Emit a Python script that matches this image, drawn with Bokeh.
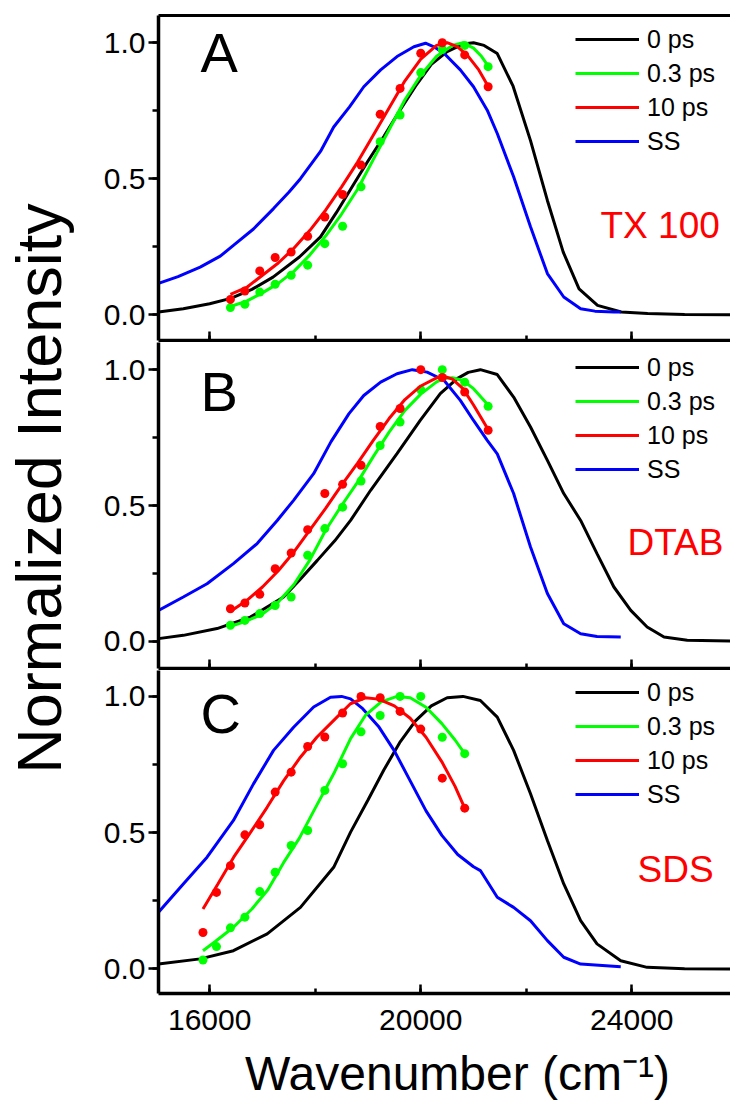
import math
from bokeh.plotting import figure
from bokeh.models import (Range1d, LinearAxis, SingleIntervalTicker, FixedTicker,
                          NumeralTickFormatter, CustomJSTickFormatter, Legend, LegendItem, Label)
from bokeh.layouts import row, column
from bokeh.embed import file_html
from bokeh.resources import INLINE

FONT = "Liberation Sans"
BLACK, GREEN, RED, BLUE = "#000000", "#00ff00", "#ff0000", "#0000ff"

# ---------------- Panel A (TX 100) ----------------
xa_black = [15030, 15500, 16000, 16400, 16800, 17200, 17700, 18100, 18400, 18700, 19000, 19300,
            19600, 19900, 20200, 20500, 20800, 21000, 21200, 21450, 21750, 22080, 22400, 22700,
            23000, 23350, 23800, 24300, 25000, 25870]
ya_black = [0.010, 0.022, 0.040, 0.060, 0.093, 0.138, 0.212, 0.286, 0.375, 0.47, 0.565, 0.655,
            0.75, 0.84, 0.92, 0.967, 0.995, 1.0, 0.99, 0.96, 0.84, 0.64, 0.42, 0.23,
            0.095, 0.034, 0.010, 0.004, 0.001, 0.0]
xa_blue = [15030, 15400, 15820, 16200, 16450, 16830, 17210, 17500, 17720, 18100, 18350, 18650,
           18920, 19240, 19550, 19870, 20090, 20250, 20440, 20750, 21000, 21260, 21450, 21760,
           22080, 22400, 22710, 23030, 23300, 23660, 23790]
ya_blue = [0.115, 0.14, 0.175, 0.215, 0.255, 0.315, 0.39, 0.45, 0.50, 0.60, 0.69, 0.764,
           0.838, 0.90, 0.949, 0.985, 0.998, 0.985, 0.961, 0.90, 0.838, 0.752, 0.666, 0.507,
           0.323, 0.151, 0.065, 0.022, 0.013, 0.010, 0.010]
x_dots = [16393, 16667, 16949, 17241, 17544, 17857, 18182, 18519, 18868, 19231, 19608, 20000,
          20408, 20833, 21277]
ya_red_pts = [0.056, 0.087, 0.161, 0.21, 0.23, 0.288, 0.359, 0.442, 0.55, 0.737, 0.832, 0.961,
              1.0, 0.955, 0.838]
ya_green_pts = [0.026, 0.038, 0.083, 0.112, 0.145, 0.182, 0.261, 0.325, 0.47, 0.636, 0.734, 0.89,
                0.975, 0.99, 0.912]
xa_red_fit = [16393, 16700, 17000, 17300, 17600, 17900, 18200, 18500, 18800, 19100, 19400, 19700,
              20000, 20300, 20500, 20700, 20900, 21100, 21277]
ya_red_fit = [0.075, 0.10, 0.145, 0.19, 0.245, 0.31, 0.385, 0.47, 0.56, 0.66, 0.76, 0.86,
              0.94, 0.99, 1.0, 0.985, 0.95, 0.90, 0.84]
xa_green_fit = [16393, 16700, 17000, 17300, 17600, 17900, 18200, 18500, 18800, 19100, 19400, 19700,
                20000, 20300, 20600, 20800, 21000, 21150, 21277]
ya_green_fit = [0.03, 0.05, 0.08, 0.115, 0.16, 0.22, 0.29, 0.37, 0.46, 0.57, 0.68, 0.79,
                0.88, 0.95, 0.99, 1.0, 0.98, 0.95, 0.915]

# ---------------- Panel B (DTAB) ----------------
xb_black = [15030, 15500, 16140, 16770, 17400, 17700, 18040, 18370, 18670, 19050, 19550, 19990,
            20370, 20690, 20900, 21130, 21450, 21760, 22080, 22400, 22710, 23030, 23340, 23660,
            23980, 24290, 24610, 25050, 25870]
yb_black = [0.010, 0.022, 0.047, 0.089, 0.163, 0.225, 0.298, 0.37, 0.445, 0.556, 0.691, 0.813,
            0.912, 0.967, 0.99, 1.0, 0.982, 0.899, 0.789, 0.666, 0.544, 0.445, 0.323, 0.20,
            0.114, 0.053, 0.016, 0.004, 0.001]
xb_blue = [15030, 15500, 15950, 16450, 16900, 17280, 17590, 17970, 18300, 18640, 18920, 19240,
           19550, 19840, 20120, 20440, 20750, 21000, 21260, 21450, 21760, 22080, 22400, 22710,
           23030, 23340, 23790]
yb_blue = [0.114, 0.163, 0.212, 0.286, 0.36, 0.445, 0.519, 0.617, 0.735, 0.838, 0.905, 0.954,
           0.985, 1.0, 0.991, 0.961, 0.887, 0.813, 0.74, 0.69, 0.544, 0.347, 0.176, 0.065,
           0.028, 0.018, 0.016]
yb_red_pts = [0.12, 0.141, 0.173, 0.267, 0.325, 0.411, 0.544, 0.578, 0.648, 0.791, 0.857, 1.0,
              0.971, 0.918, 0.777]
yb_green_pts = [0.059, 0.077, 0.102, 0.132, 0.163, 0.317, 0.415, 0.494, 0.59, 0.721, 0.807, 0.926,
                1.0, 0.954, 0.865]
xb_fit = [16393, 16700, 17000, 17300, 17600, 17900, 18200, 18500, 18800, 19100, 19400, 19700,
          20000, 20300, 20450, 20600, 20800, 21000, 21277]
yb_red_fit = [0.11, 0.15, 0.20, 0.26, 0.33, 0.41, 0.49, 0.575, 0.655, 0.74, 0.82, 0.89,
              0.94, 0.97, 0.975, 0.965, 0.93, 0.87, 0.78]
yb_green_fit = [0.055, 0.075, 0.10, 0.145, 0.21, 0.30, 0.41, 0.50, 0.585, 0.68, 0.77, 0.85,
                0.91, 0.955, 0.968, 0.97, 0.96, 0.93, 0.87]

# ---------------- Panel C (SDS) ----------------
xc_black = [15030, 15820, 16450, 17090, 17720, 18350, 18670, 19000, 19300, 19600, 19900, 20200,
            20500, 20800, 21130, 21450, 21760, 22080, 22400, 22710, 23030, 23340, 23790, 24290,
            25000, 25870]
yc_black = [0.018, 0.037, 0.067, 0.129, 0.226, 0.373, 0.502, 0.62, 0.73, 0.83, 0.91, 0.965,
            0.995, 1.0, 0.985, 0.924, 0.802, 0.643, 0.471, 0.312, 0.177, 0.092, 0.03, 0.006,
            0.001, 0.0]
xc_blue = [15030, 15500, 15950, 16450, 16830, 17210, 17590, 17970, 18290, 18500, 18670, 18900,
           19200, 19500, 19800, 20100, 20400, 20700, 21000, 21130, 21450, 21760, 22080, 22400,
           22710, 23030, 23790]
yc_blue = [0.208, 0.312, 0.41, 0.545, 0.679, 0.802, 0.887, 0.961, 0.997, 1.0, 0.991, 0.955,
           0.89, 0.80, 0.69, 0.58, 0.49, 0.42, 0.375, 0.361, 0.263, 0.226, 0.177, 0.104,
           0.043, 0.018, 0.008]
x_dots_c = [15873, 16129, 16393, 16667, 16949, 17241, 17544, 17857, 18182, 18519, 18868, 19231,
            19608, 20000, 20408, 20833]
yc_red_pts = [0.134, 0.281, 0.379, 0.492, 0.529, 0.649, 0.722, 0.816, 0.851, 0.939, 1.0, 0.995,
              0.945, 0.88, 0.70, 0.59]
yc_green_pts = [0.033, 0.082, 0.151, 0.19, 0.284, 0.355, 0.453, 0.508, 0.655, 0.753, 0.87, 0.93,
                1.0, 1.0, 0.85, 0.79]
xc_red_fit = [15873, 16150, 16455, 16770, 17088, 17400, 17719, 18030, 18351, 18667, 18950, 19200,
              19500, 19800, 20100, 20400, 20650, 20833]
yc_red_fit = [0.22, 0.31, 0.41, 0.50, 0.593, 0.69, 0.777, 0.85, 0.912, 0.973, 0.995, 0.99,
              0.965, 0.92, 0.85, 0.76, 0.67, 0.59]
xc_green_fit = [15873, 16100, 16450, 16800, 17100, 17400, 17700, 18000, 18350, 18670, 18950, 19250,
                19550, 19800, 20100, 20400, 20650, 20833]
yc_green_fit = [0.067, 0.10, 0.153, 0.22, 0.29, 0.39, 0.48, 0.59, 0.716, 0.845, 0.93, 0.98,
                1.0, 0.995, 0.96, 0.90, 0.84, 0.79]

legend_labels = ["0 ps", "0.3 ps", "10 ps", "SS"]
x_tick_interval = 4000
y_tick_interval = 0.5
x_label = "Wavenumber (cm\u207b\u00b9)"
y_label = "Normalized Intensity"

X_START, X_END = 15030, 25870
LEFT_W = 80
FIG_W = 730 - LEFT_W
FRAME_LEFT = 158
H_A, H_B, H_C, H_X = 342, 328, 375, 56
TOTAL_H = H_A + H_B + H_C + H_X


def style_axis(ax, width=3.5):
    ax.axis_line_width = width
    ax.axis_line_color = "black"
    ax.major_tick_line_width = 2.5
    ax.minor_tick_line_width = 2.5
    ax.major_tick_line_color = "black"
    ax.minor_tick_line_color = "black"


def make_panel(height, ybounds, border_top, border_bottom, letter, letter_y, surf, surf_x, surf_y,
               black, blue, dots_x, red_pts, green_pts, red_fit, green_fit, top_line=False,
               bottom_labels=False):
    p = figure(width=FIG_W, height=height, x_range=Range1d(X_START, X_END),
               y_range=Range1d(*ybounds), output_backend="svg", toolbar_location=None,
               x_axis_location=None, y_axis_location=None,
               min_border_left=FRAME_LEFT - LEFT_W, min_border_right=0,
               min_border_top=border_top, min_border_bottom=border_bottom)
    p.outline_line_color = None
    p.grid.visible = False
    p.background_fill_color = "white"
    p.border_fill_color = "white"

    left = LinearAxis(ticker=SingleIntervalTicker(interval=y_tick_interval, num_minor_ticks=2),
                      formatter=NumeralTickFormatter(format="0.0"))
    style_axis(left)
    left.major_tick_out = 10
    left.major_tick_in = 0
    left.minor_tick_out = 6
    left.minor_tick_in = 0
    left.major_label_standoff = 3
    left.major_label_text_font = FONT
    left.major_label_text_font_size = "30px"
    left.major_label_text_color = "black"
    p.add_layout(left, "left")

    bottom = LinearAxis(ticker=SingleIntervalTicker(interval=x_tick_interval, num_minor_ticks=2))
    style_axis(bottom)
    bottom.major_tick_in = 9
    bottom.major_tick_out = 0
    bottom.minor_tick_in = 5
    bottom.minor_tick_out = 0
    if bottom_labels:
        bottom.major_label_standoff = 16
        bottom.major_label_text_font = FONT
        bottom.major_label_text_font_size = "30px"
        bottom.major_label_text_color = "black"
    else:
        bottom.formatter = CustomJSTickFormatter(code="return ''")
        bottom.major_label_text_font_size = "0px"
        bottom.major_label_standoff = 0
    p.add_layout(bottom, "below")

    if top_line:
        top = LinearAxis(ticker=FixedTicker(ticks=[]))
        style_axis(top, 3)
        top.major_tick_in = 0
        top.major_tick_out = 0
        top.minor_tick_in = 0
        top.minor_tick_out = 0
        top.major_label_standoff = 0
        top.major_label_text_font_size = "0px"
        p.add_layout(top, "above")

    r_black = p.line(black[0], black[1], line_color=BLACK, line_width=3)
    r_blue = p.line(blue[0], blue[1], line_color=BLUE, line_width=3)
    r_green = p.line(green_fit[0], green_fit[1], line_color=GREEN, line_width=3)
    p.scatter(dots_x, green_pts, size=9, fill_color=GREEN, line_color=None)
    r_red = p.line(red_fit[0], red_fit[1], line_color=RED, line_width=3)
    p.scatter(dots_x, red_pts, size=9, fill_color=RED, line_color=None)

    legend = Legend(items=[LegendItem(label=legend_labels[0], renderers=[r_black]),
                           LegendItem(label=legend_labels[1], renderers=[r_green]),
                           LegendItem(label=legend_labels[2], renderers=[r_red]),
                           LegendItem(label=legend_labels[3], renderers=[r_blue])],
                    location=(417, 182), padding=0, margin=0, spacing=0,
                    glyph_width=64, glyph_height=34, label_height=34, label_standoff=8,
                    label_text_font=FONT, label_text_font_size="25px",
                    label_text_color="black",
                    border_line_color=None, background_fill_alpha=0)
    p.add_layout(legend)

    p.add_layout(Label(x=42, y=letter_y, x_units="screen", y_units="screen", text=letter,
                       text_font=FONT, text_font_size="56px", text_color="black",
                       text_align="left", text_baseline="middle"))
    p.add_layout(Label(x=surf_x, y=surf_y, x_units="screen", y_units="screen", text=surf,
                       text_font=FONT, text_font_size="37px", text_color=RED,
                       text_align="left", text_baseline="middle"))
    return p


pA = make_panel(H_A, (-0.095, 1.10), 15, 2, "A", 288, "TX 100", 442, 115,
                (xa_black, ya_black), (xa_blue, ya_blue), x_dots, ya_red_pts, ya_green_pts,
                (xa_red_fit, ya_red_fit), (xa_green_fit, ya_green_fit), top_line=True)
pB = make_panel(H_B, (-0.10, 1.10), 0, 2, "B", 277, "DTAB", 469, 126,
                (xb_black, yb_black), (xb_blue, yb_blue), x_dots, yb_red_pts, yb_green_pts,
                (xb_fit, yb_red_fit), (xb_fit, yb_green_fit))
pC = make_panel(H_C, (-0.09, 1.095), 0, H_C - 323, "C", 280, "SDS", 479, 124,
                (xc_black, yc_black), (xc_blue, yc_blue), x_dots_c, yc_red_pts, yc_green_pts,
                (xc_red_fit, yc_red_fit), (xc_green_fit, yc_green_fit), bottom_labels=True)


def blank(width, height):
    f = figure(width=width, height=height, x_range=Range1d(0, 1), y_range=Range1d(0, 1),
               output_backend="svg", toolbar_location=None, x_axis_location=None,
               y_axis_location=None, min_border=0)
    f.outline_line_color = None
    f.grid.visible = False
    return f


# x-axis title strip (its frame is aligned with the panels' frames in the column)
pX = blank(FIG_W, H_X)
pX.add_layout(Label(x=457 - FRAME_LEFT, y=28, x_units="screen", y_units="screen", text=x_label,
                    text_font=FONT, text_font_size="48px", text_color="black",
                    text_align="center", text_baseline="middle"))

# y-axis title strip
pL = blank(LEFT_W, TOTAL_H)
pL.add_layout(Label(x=38, y=TOTAL_H - 488, x_units="screen", y_units="screen", text=y_label,
                    angle=math.pi / 2, text_font=FONT, text_font_size="63px",
                    text_color="black", text_align="center", text_baseline="middle"))

layout = row(pL, column(pA, pB, pC, pX))

open("out.html", "w").write(file_html(layout, INLINE))
